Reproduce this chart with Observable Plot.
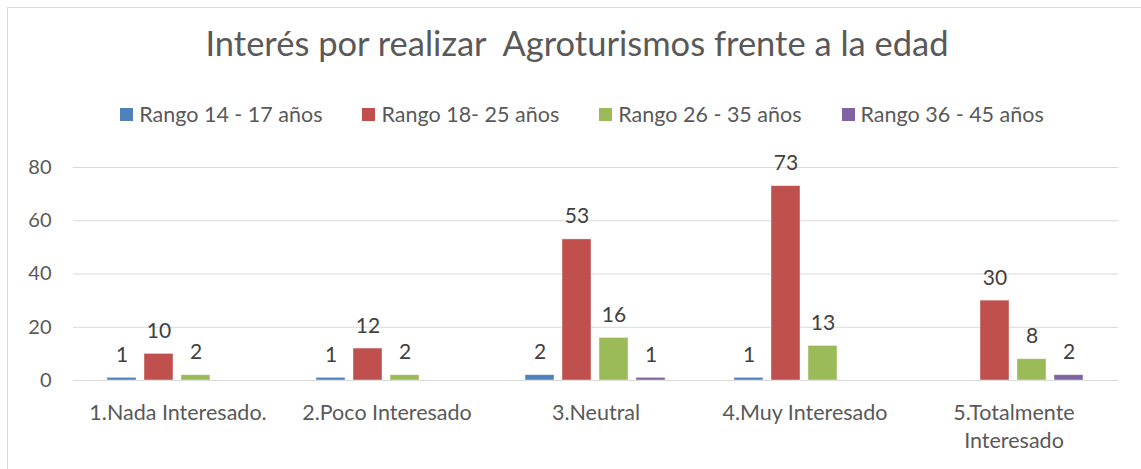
<!DOCTYPE html>
<html>
<head>
<meta charset="utf-8">
<script src="https://cdn.jsdelivr.net/npm/d3@7"></script>
<script src="https://cdn.jsdelivr.net/npm/@observablehq/plot@0.6"></script>
<style>
  html, body { margin: 0; padding: 0; background: #fff; }
  body { width: 1141px; height: 469px; overflow: hidden; position: relative; font-family: Lato, "Open Sans", sans-serif; }
  #frame { position: absolute; left: 7px; top: 7px; width: 1140px; height: 480px; border: 1.5px solid #d9d9d9; box-sizing: border-box; }
  #title { position: absolute; left: 7px; width: 1140px; top: 22px; text-align: center; font-size: 34.5px; color: #595959; white-space: pre; }
  #legend { position: absolute; left: 0; width: 1164px; top: 101px; display: flex; justify-content: center; gap: 40px; font-size: 21.5px; color: #595959; }
  #legend span.item { display: flex; align-items: center; }
  #legend span.sw { display: inline-block; width: 13px; height: 13px; margin-right: 6px; }
  #chart { position: absolute; left: 0; top: 150px; }
</style>
</head>
<body>
<div id="frame"></div>
<div id="title">Interés por realizar  Agroturismos frente a la edad</div>
<div id="legend"></div>
<div id="chart"></div>
<script>
const categories = ["1.Nada Interesado.", "2.Poco Interesado", "3.Neutral", "4.Muy Interesado", "5.Totalmente Interesado"];
const categoryLabels = ["1.Nada Interesado.", "2.Poco Interesado", "3.Neutral", "4.Muy Interesado", "5.Totalmente\nInteresado"];
const series = ["Rango 14 - 17 años", "Rango 18- 25 años", "Rango 26 - 35 años", "Rango 36 - 45 años"];
const colors = ["#4F81BD", "#C0504D", "#9BBB59", "#8064A2"];
const rango14_17 = [1, 1, 2, 1, null];
const rango18_25 = [10, 12, 53, 73, 30];
const rango26_35 = [2, 2, 16, 13, 8];
const rango36_45 = [null, null, 1, null, 2];
const yTicks = [0, 20, 40, 60, 80];

const values = [rango14_17, rango18_25, rango26_35, rango36_45];
const data = [];
categories.forEach((c, i) => {
  series.forEach((s, j) => {
    const v = values[j][i];
    if (v != null) data.push({category: c, series: s, value: v});
  });
});

const legend = document.getElementById("legend");
series.forEach((s, j) => {
  const item = document.createElement("span");
  item.className = "item";
  item.innerHTML = `<span class="sw" style="background:${colors[j]}"></span>${s}`;
  legend.appendChild(item);
});

const labelMap = new Map(categories.map((c, i) => [c, categoryLabels[i]]));

const chart = Plot.plot({
  width: 1141,
  height: 319,
  marginLeft: 71,
  marginRight: 22,
  marginTop: 17,
  marginBottom: 89,
  style: {fontFamily: "Lato, 'Open Sans', sans-serif", fontSize: "20px", color: "#595959", background: "transparent"},
  fx: {domain: categories, paddingInner: 0, paddingOuter: 0, label: null},
  x: {domain: series, paddingInner: 0.21, paddingOuter: 0.86, axis: null},
  y: {domain: [0, 80], ticks: yTicks, label: null},
  color: {domain: series, range: colors},
  marks: [
    Plot.ruleY(yTicks, {stroke: "#d9d9d9", strokeWidth: 1.2}),
    Plot.axisY({ticks: yTicks, tickSize: 0, tickPadding: 22, fontSize: 20, fill: "#595959", label: null}),
    Plot.axisFx({anchor: "bottom", tickSize: 0, tickPadding: 20, fontSize: 21.5, fill: "#595959", label: null, tickFormat: d => labelMap.get(d), lineHeight: 1.3}),
    Plot.barY(data, {fx: "category", x: "series", y: "value", fill: "series", stroke: "#fff", strokeOpacity: 0.5, strokeWidth: 0.8}),
    Plot.text(data, {fx: "category", x: "series", y: "value", text: d => String(d.value), dy: -16, lineAnchor: "bottom", fontSize: 21, fill: "#404040"})
  ]
});
document.getElementById("chart").appendChild(chart);
</script>
</body>
</html>
